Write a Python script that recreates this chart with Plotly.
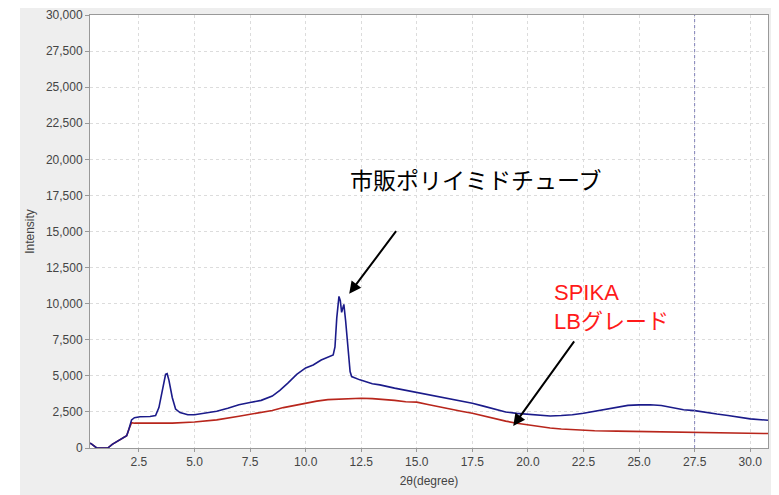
import plotly.graph_objects as go

# 市販ポリイミドチューブ (blue)
blue_x = [0.3, 0.35, 0.6, 1.1, 1.3, 1.65, 1.95, 2.05, 2.17, 2.3, 2.55, 3.0, 3.25, 3.4, 3.55, 3.7, 3.77,
          3.85, 4.0, 4.15, 4.35, 4.7, 5.0, 5.5, 6.0, 6.5, 7.0, 7.5, 8.0, 8.5, 8.84, 9.2, 9.6, 10.0,
          10.34, 10.7, 11.0, 11.24, 11.32, 11.4, 11.5, 11.56, 11.62, 11.72, 11.8, 11.9, 12.0, 12.07,
          12.44, 13.0, 13.34, 14.0, 14.84, 15.5, 16.0, 16.5, 17.0, 17.5, 18.0, 18.5, 19.0, 19.5,
          20.0, 20.5, 21.0, 21.5, 22.0, 22.5, 23.0, 23.5, 24.0, 24.5, 25.0, 25.5, 26.0, 26.5, 27.0,
          27.5, 28.0, 28.5, 29.0, 29.5, 30.0, 30.8]
blue_y = [330, 300, 0, 0, 250, 550, 850, 1300, 1950, 2100, 2170, 2180, 2250, 2800, 4000, 5100, 5150,
          4700, 3500, 2700, 2450, 2300, 2300, 2400, 2550, 2750, 3000, 3150, 3300, 3600, 4000, 4500, 5100, 5550,
          5750, 6100, 6300, 6450, 7000, 9000, 10500, 10200, 9400, 9950, 8800, 6800, 5300, 4950,
          4720, 4450, 4375, 4150, 3910, 3700, 3550, 3400, 3250, 3100, 2900, 2700, 2500, 2400,
          2350, 2300, 2220, 2250, 2300, 2410, 2550, 2700, 2850, 2950, 2990, 3000, 2950, 2800, 2650,
          2590, 2450, 2350, 2250, 2150, 2020, 1920]

# SPIKA LBグレード (red)
red_x = [0.3, 0.35, 0.6, 1.1, 1.3, 1.65, 1.95, 2.05, 2.17, 2.3, 3.0, 4.0, 5.0, 6.0, 7.0, 7.5, 8.0, 8.5,
         9.0, 9.5, 10.0, 10.5, 11.0, 11.5, 12.0, 12.5, 13.0, 13.5, 14.0, 14.5, 15.0, 15.5, 16.0, 16.5,
         17.0, 17.5, 18.0, 18.5, 19.0, 19.5, 20.0, 20.5, 21.0, 21.5, 22.0, 22.5, 23.0, 24.0, 25.0,
         26.0, 27.0, 28.0, 29.0, 30.0, 30.8]
red_y = [330, 300, 0, 0, 250, 550, 850, 1300, 1750, 1720, 1700, 1720, 1800, 1950, 2200, 2330, 2450, 2600,
         2800, 2950, 3150, 3250, 3350, 3400, 3420, 3450, 3420, 3380, 3300, 3200, 3180, 3020, 2850, 2700,
         2550, 2410, 2220, 2020, 1860, 1720, 1600, 1490, 1390, 1320, 1270, 1230, 1200, 1170, 1140,
         1110, 1080, 1060, 1040, 1020, 1000]

x_ticks = [2.5, 5.0, 7.5, 10.0, 12.5, 15.0, 17.5, 20.0, 22.5, 25.0, 27.5, 30.0]
y_ticks = [0, 2500, 5000, 7500, 10000, 12500, 15000, 17500, 20000, 22500, 25000, 27500, 30000]
marker_x = 27.5

label_tube = "市販ポリイミドチューブ"
label_spika = "SPIKA<br>LBグレード"
peak_tube = (11.96, 10690)
point_spika = (19.34, 1530)

fig = go.Figure()
fig.add_trace(go.Scatter(x=red_x, y=red_y, mode="lines",
                         line=dict(color="#b8261c", width=1.6), showlegend=False))
fig.add_trace(go.Scatter(x=blue_x, y=blue_y, mode="lines",
                         line=dict(color="#1b1b8a", width=1.6), showlegend=False))

fig.add_vline(x=marker_x, line=dict(color="#8080b8", width=1, dash="dot"))

fig.add_annotation(x=peak_tube[0], y=peak_tube[1], ax=48, ay=-64, text="",
                   showarrow=True, arrowhead=2, arrowsize=1.2, arrowwidth=2, arrowcolor="black")
fig.add_annotation(x=point_spika[0], y=point_spika[1], ax=62, ay=-86, text="",
                   showarrow=True, arrowhead=2, arrowsize=1.2, arrowwidth=2, arrowcolor="black")
fig.add_annotation(xref="paper", yref="paper", x=(476 - 90) / 678, y=(448 - 179) / 433,
                   text=label_tube, showarrow=False, xanchor="center", yanchor="middle",
                   font=dict(size=23, color="black", family="Noto Sans CJK JP"))
fig.add_annotation(xref="paper", yref="paper", x=(552 - 90) / 678, y=(448 - 307) / 433,
                   text=label_spika, showarrow=False, xanchor="left", yanchor="middle", align="left",
                   font=dict(size=22, color="#ff1a1a", family="Liberation Sans, Noto Sans CJK JP"))

# white strip left of the gray panel
fig.add_shape(type="rect", xref="paper", yref="paper", x0=-0.2, x1=(20 - 90) / 678, y0=-0.2, y1=1.2,
              fillcolor="white", line_width=0, layer="above")

fig.update_layout(
    width=771, height=487,
    margin=dict(l=82, r=11, t=7, b=47),
    paper_bgcolor="#eeeeee", plot_bgcolor="white",
    font=dict(family="Liberation Sans, Arial, sans-serif", size=12, color="#444444"),
)
fig.update_xaxes(range=[0.3, 30.8], tickvals=x_ticks, tickformat=".1f", automargin=False,
                 showgrid=True, gridcolor="#dcdcdc", griddash="dot", gridwidth=1,
                 showline=True, linecolor="#999999", linewidth=1, mirror=True,
                 ticks="outside", ticklen=3, tickcolor="#999999", zeroline=False,
                 title=dict(text="2θ(degree)", font=dict(size=12, color="#444444"), standoff=8))
fig.update_yaxes(range=[0, 30000], tickvals=y_ticks, tickformat=",d", automargin=False,
                 showgrid=True, gridcolor="#dcdcdc", griddash="dot", gridwidth=1,
                 showline=True, linecolor="#999999", linewidth=1, mirror=True,
                 ticks="outside", ticklen=4, tickcolor="#999999", zeroline=False,
                 title=dict(text="Intensity", font=dict(size=12, color="#444444"), standoff=8))

fig.write_html("out.html")
